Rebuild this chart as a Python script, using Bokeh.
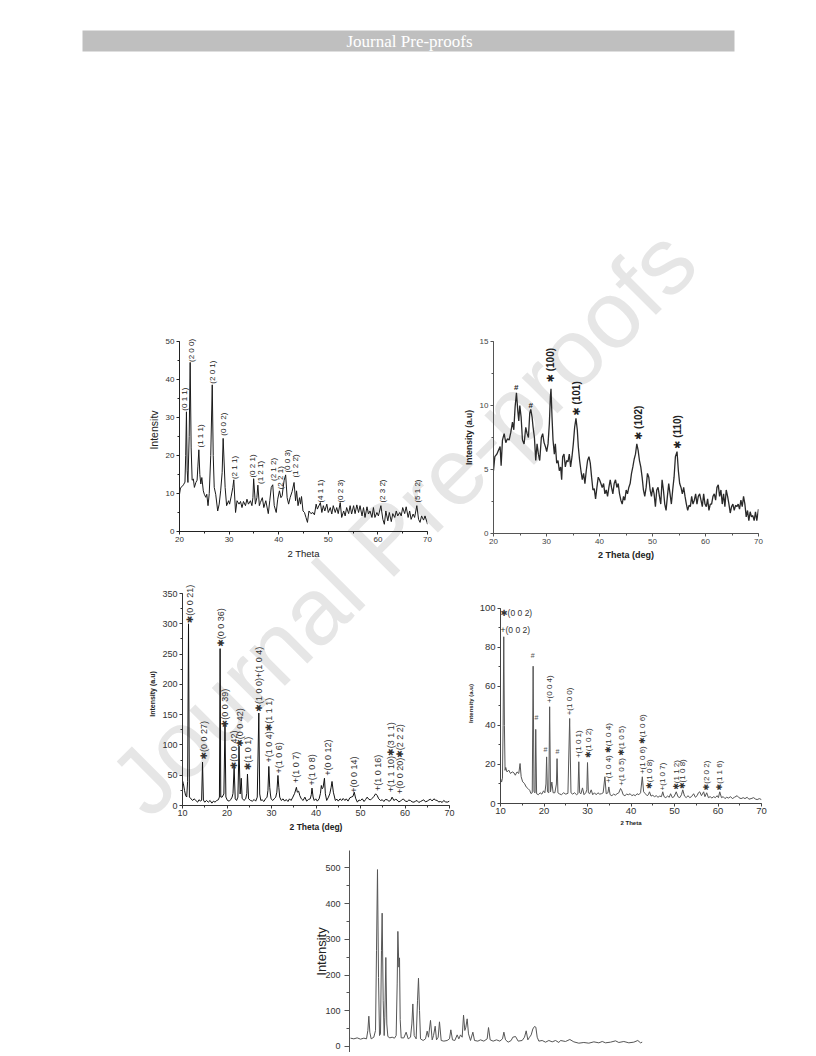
import math
from bokeh.plotting import figure
from bokeh.models import Range1d, Label, LabelSet, ColumnDataSource, SingleIntervalTicker, Spacer
from bokeh.layouts import column, row
from bokeh.core.properties import value
from bokeh.embed import file_html
from bokeh.resources import INLINE

FONT = "Liberation Sans"
LABEL_FONT = "Liberation Sans, DejaVu Sans"
STAR = "\u2731"
BAR = "\u0304"

# ---------------- panel (a): 2 Theta 20-70, Intensitv 0-50 ----------------
a_x = [20.0, 20.2, 20.5, 20.8, 21.1, 21.25, 21.4, 21.55, 21.7, 21.95, 22.15, 22.35, 22.55, 22.8, 23.0,
       23.3, 23.55, 23.7, 23.9, 24.1, 24.3, 24.5, 24.8, 25.0, 25.3, 25.5, 25.75, 26.0, 26.3, 26.6,
       26.8, 27.0, 27.3, 27.7, 28.0, 28.3, 28.6, 28.8, 29.2, 29.5, 29.9, 30.1, 30.4, 30.75, 30.95,
       31.3, 31.6, 32.0, 32.3, 32.6, 32.9, 33.3, 33.6, 33.9, 34.3, 34.6, 34.8, 34.95, 35.3, 35.6,
       35.8, 36.1, 36.3, 36.7, 37.0, 37.4, 37.9, 38.2, 38.5, 38.8, 39.1, 39.5, 39.8, 40.15, 40.45,
       40.7, 40.9, 41.1, 41.4, 41.7, 42.0, 42.3, 42.7, 43.1, 43.4, 43.6, 43.9, 44.2, 44.4, 44.6,
       44.9, 45.2, 45.5, 45.8, 46.1, 46.5, 46.9, 47.2, 47.55, 47.8, 48.4, 48.7, 49.0, 49.3, 49.7,
       50.0, 50.4, 50.7, 51.0, 51.4, 51.7, 52.0, 52.4, 52.7, 53.1, 53.4, 53.7, 54.1, 54.4, 54.7,
       55.1, 55.4, 55.75, 56.1, 56.4, 56.8, 57.1, 57.4, 57.8, 58.1, 58.4, 58.8, 59.1, 59.4, 59.8,
       60.1, 60.6, 61.0, 61.3, 61.6, 62.0, 62.3, 62.7, 63.0, 63.4, 63.7, 64.0, 64.4, 64.7, 65.0,
       65.4, 65.7, 66.1, 66.4, 66.7, 67.1, 67.4, 67.85, 68.2, 68.5, 68.8, 69.2, 69.5, 69.9, 70.0]
a_y = [9.8, 11.5, 11.8, 12.3, 13.0, 20.0, 31.5, 16.0, 12.9, 25.0, 44.5, 22.0, 13.5, 13.8, 11.6,
       12.9, 13.5, 17.0, 21.5, 15.0, 12.5, 14.2, 10.7, 9.8, 9.0, 9.8, 6.8, 10.0, 20.0, 38.6,
       20.0, 11.6, 9.8, 5.4, 7.2, 10.7, 15.5, 24.5, 11.6, 6.8, 8.1, 7.2, 9.1, 11.6, 13.6,
       5.0, 8.1, 7.2, 7.9, 6.3, 7.9, 6.8, 8.5, 7.2, 8.1, 6.8, 8.9, 13.9, 7.2, 8.9,
       12.2, 6.8, 7.6, 8.9, 6.3, 8.1, 4.7, 8.1, 11.6, 12.3, 6.8, 5.0, 8.5, 10.7, 8.9,
       9.4, 11.6, 13.5, 14.9, 8.9, 7.2, 8.9, 10.5, 12.9, 8.1, 10.7, 6.8, 8.9, 7.2, 9.2,
       5.4, 5.0, 3.7, 2.4, 5.4, 4.7, 5.0, 4.4, 7.2, 5.9, 7.6, 5.0, 6.8, 5.4, 7.2,
       5.0, 6.3, 4.6, 6.8, 5.0, 6.3, 4.7, 7.6, 3.7, 5.4, 4.1, 6.3, 4.7, 6.8, 4.6,
       6.8, 4.7, 7.0, 5.0, 6.8, 4.1, 6.3, 3.7, 6.5, 4.6, 5.4, 3.7, 6.3, 3.7, 5.0,
       4.1, 6.8, 3.2, 1.9, 5.4, 2.8, 5.0, 2.6, 4.7, 3.7, 5.4, 4.1, 5.0, 4.1, 6.3,
       4.7, 6.5, 3.7, 5.4, 3.2, 4.6, 3.7, 6.8, 3.2, 2.4, 4.1, 3.0, 4.1, 2.4, 1.9]
a_lab_x = [21.0, 22.5, 24.2, 26.7, 28.9, 31.1, 34.8, 36.4, 38.95, 40.3, 41.85, 43.3, 48.4, 52.4, 61.0, 68.0]
a_lab_y = [31.8, 44.6, 22.1, 38.9, 25.2, 13.8, 14.2, 12.5, 13.3, 11.1, 15.5, 14.2, 7.6, 7.6, 7.6, 7.6]
a_lab_t = ["(0 1 1)", "(2 0 0)", "(1 1 1)", "(2 0 1)", "(0 0 2)", "(2 1 1)", "(0 2 1)",
           "(1 2 1" + BAR + ")", "(2 1 2)", "(2 2 1)", "(0 0 3)", "(1 2 2" + BAR + ")",
           "(4 1 1)", "(0 2 3)", "(2 3 2" + BAR + ")", "(5 1 2)"]

# ---------------- panel (b): 2 Theta (deg) 20-70, Intensity 0-15 ----------------
b_x = [20.0, 20.25, 20.63, 20.94, 21.25, 21.44, 21.69, 22.01, 22.32, 22.63, 22.95, 23.26, 23.58, 23.83,
       24.08, 24.33, 24.58, 24.77, 24.96, 25.21, 25.46, 25.77, 26.09, 26.34, 26.59, 26.84, 27.03, 27.28,
       27.47, 27.72, 27.97, 28.22, 28.47, 28.72, 29.03, 29.28, 29.54, 29.79, 30.04, 30.29, 30.54, 30.73,
       30.85, 31.04, 31.23, 31.48, 31.67, 31.92, 32.17, 32.42, 32.67, 32.86, 33.05, 33.30, 33.55, 33.80,
       34.05, 34.30, 34.55, 34.81, 35.06, 35.31, 35.56, 35.81, 36.00, 36.25, 36.50, 36.75, 37.00, 37.25,
       37.50, 37.75, 38.01, 38.26, 38.51, 38.76, 39.01, 39.26, 39.51, 39.76, 40.01, 40.26, 40.51, 40.77,
       41.02, 41.27, 41.52, 41.77, 42.02, 42.27, 42.52, 42.77, 43.02, 43.28, 43.53, 43.78, 44.03, 44.28,
       44.53, 44.78, 45.03, 45.28, 45.53, 45.78, 46.04, 46.29, 46.54, 46.79, 47.04, 47.29, 47.54, 47.79,
       48.04, 48.29, 48.54, 48.80, 49.05, 49.30, 49.55, 49.80, 50.05, 50.30, 50.55, 50.80, 51.05, 51.31,
       51.56, 51.81, 52.06, 52.31, 52.56, 52.81, 53.06, 53.31, 53.56, 53.81, 54.07, 54.32, 54.63, 54.88,
       55.13, 55.38, 55.63, 55.88, 56.14, 56.39, 56.64, 56.89, 57.14, 57.39, 57.64, 57.89, 58.14, 58.39,
       58.64, 58.90, 59.15, 59.40, 59.65, 59.90, 60.15, 60.40, 60.65, 60.90, 61.15, 61.41, 61.66, 61.91,
       62.16, 62.41, 62.66, 62.91, 63.16, 63.41, 63.66, 63.91, 64.17, 64.42, 64.67, 64.92, 65.17, 65.42,
       65.67, 65.92, 66.17, 66.42, 66.68, 66.93, 67.18, 67.43, 67.68, 67.93, 68.18, 68.43, 68.68, 68.93,
       69.18, 69.43, 69.68, 70.0]
b_y = [4.9, 6.0, 6.2, 6.5, 6.8, 5.3, 7.3, 7.8, 7.1, 7.4, 7.3, 7.9, 8.7, 8.1,
       9.9, 11.0, 9.6, 8.8, 10.0, 9.1, 7.3, 7.0, 8.3, 7.8, 7.5, 9.4, 9.7, 9.1,
       8.3, 7.5, 5.7, 7.0, 6.2, 5.7, 7.5, 7.8, 7.1, 6.8, 6.4, 7.0, 8.6, 10.7,
       11.3, 9.1, 7.3, 6.2, 7.0, 5.5, 5.7, 4.9, 5.2, 4.2, 6.0, 6.2, 5.2, 5.7,
       5.6, 6.2, 5.2, 6.0, 7.0, 8.3, 9.0, 8.1, 6.8, 5.7, 4.9, 4.2, 4.7, 3.9,
       4.9, 5.7, 6.0, 5.5, 4.4, 3.4, 3.5, 2.7, 3.6, 4.4, 4.2, 3.9, 3.6, 3.9,
       3.1, 3.4, 2.9, 3.6, 4.2, 3.6, 3.1, 3.9, 4.2, 3.6, 3.9, 3.1, 2.6, 2.3,
       2.9, 2.6, 3.4, 3.1, 3.6, 3.9, 4.7, 5.2, 5.8, 6.2, 7.0, 6.5, 5.7, 5.2,
       4.4, 3.4, 2.9, 3.6, 4.7, 4.4, 3.4, 2.9, 3.6, 3.1, 2.1, 3.4, 3.6, 2.9,
       2.3, 4.2, 3.4, 2.3, 1.8, 2.9, 3.9, 3.1, 2.3, 3.4, 4.4, 6.0, 6.4, 4.9,
       3.9, 3.6, 3.1, 3.6, 2.9, 2.3, 1.8, 2.2, 2.1, 2.9, 2.3, 2.6, 3.1, 2.3,
       2.9, 3.1, 2.6, 2.1, 3.1, 2.3, 2.1, 2.7, 1.8, 2.3, 2.3, 2.9, 3.1, 2.6,
       3.6, 3.8, 2.9, 3.4, 2.3, 3.1, 2.1, 3.4, 2.9, 2.3, 1.6, 2.1, 2.3, 1.8,
       2.2, 2.1, 2.3, 1.9, 2.6, 2.1, 2.9, 2.3, 1.3, 1.8, 1.0, 1.7, 1.3, 1.4,
       1.0, 1.7, 1.0, 1.9]
b_lab_x = [30.85, 35.6, 47.4, 54.8]
b_lab_y = [11.8, 9.2, 7.3, 6.6]
b_lab_t = [STAR + " (100)", STAR + " (101)", STAR + " (102)", STAR + " (110)"]
b_hash_x = [24.3, 27.0]
b_hash_y = [11.4, 10.0]

# ---------------- panel (c): 2 Theta (deg) 10-70, Intensity 0-350 ----------------
c_x = [10.0, 10.2, 10.45, 10.7, 10.95, 11.15, 11.35, 11.55, 11.9, 12.3, 12.6, 13.0, 13.4, 13.7, 14.1,
       14.3, 14.5, 14.7, 15.0, 15.4, 15.8, 16.2, 16.6, 16.95, 17.3, 17.7, 18.05, 18.3, 18.45, 18.6,
       18.9, 19.3, 19.55, 19.75, 20.1, 20.5, 20.8, 21.15, 21.35, 21.6, 21.85, 22.15, 22.45, 22.7, 22.95,
       23.2, 23.4, 23.8, 24.2, 24.45, 24.6, 24.85, 25.3, 25.7, 26.1, 26.45, 26.8, 27.15, 27.35, 27.6,
       27.9, 28.3, 28.65, 29.0, 29.2, 29.4, 29.6, 29.75, 29.9, 30.3, 30.6, 30.95, 31.2, 31.45, 31.65,
       31.85, 32.2, 32.6, 32.95, 33.3, 33.7, 34.05, 34.4, 34.8, 35.2, 35.6, 35.8, 36.1, 36.35, 36.7,
       37.1, 37.5, 37.9, 38.3, 38.7, 38.95, 39.1, 39.35, 39.6, 39.95, 40.3, 40.7, 41.0, 41.2, 41.4,
       41.6, 41.9, 42.1, 42.4, 42.8, 43.1, 43.4, 43.6, 43.9, 44.35, 44.7, 45.0, 45.4, 45.8, 46.1,
       46.5, 46.8, 47.2, 47.6, 47.9, 48.3, 48.6, 48.9, 49.3, 49.65, 50.0, 50.4, 50.8, 51.15, 51.5,
       51.9, 52.3, 52.65, 53.0, 53.4, 53.75, 54.1, 54.5, 54.9, 55.25, 55.6, 56.0, 56.4, 56.75, 57.1,
       57.5, 57.85, 58.2, 58.6, 59.0, 59.35, 59.7, 60.1, 60.5, 60.85, 61.2, 61.6, 62.0, 62.35, 62.7,
       63.1, 63.5, 63.85, 64.2, 64.6, 65.0, 65.35, 65.7, 66.1, 66.5, 66.85, 67.2, 67.6, 68.0, 68.35,
       68.7, 69.1, 69.5, 70.0]
c_y = [41, 36, 25, 16.5, 14, 40, 300, 14, 11, 8.3, 11, 8.3, 5.5, 9.4, 7.2,
       9, 71.7, 9, 5.5, 8.3, 5.5, 8.3, 3.9, 7.2, 5.5, 8.3, 9.4, 14, 259, 14,
       13.8, 19, 135, 14, 8.3, 7.2, 9.4, 13.8, 20, 63.4, 11, 8.3, 13.8, 98, 19,
       45, 12, 8.3, 11, 20, 52, 11, 8.3, 7.2, 9.9, 7.2, 13.8, 152.7, 19, 8.3,
       9.4, 6.6, 11, 13.8, 25, 64.5, 30, 19, 11, 8.3, 11, 13.8, 22, 49.6, 30,
       13.8, 8.3, 11, 7.2, 9.9, 6.6, 11, 8.3, 13.8, 20, 30, 22, 23.7, 16.5, 11,
       8.3, 13.8, 7.2, 9.9, 11, 18, 28.7, 14, 8.3, 11, 7.2, 11, 20, 33, 27.6,
       30, 45, 19.3, 8.3, 13.8, 19.3, 30, 39.7, 22, 8.3, 10.5, 7.2, 11, 8.3, 11.6,
       8.3, 11, 7.2, 12.7, 13.8, 15, 22, 12, 5.5, 9, 8.3, 11, 6.6, 10, 13.8,
       10, 9.4, 12, 14.9, 19.3, 16.5, 11, 8.3, 9.5, 6.6, 10, 9.4, 7, 8.3, 13.8,
       8.3, 10, 9.4, 6, 7.2, 10, 10.5, 7, 6.6, 9, 8.3, 6, 5.5, 7, 8.3,
       5, 6.6, 8, 9.4, 6, 7.2, 9, 10.5, 7.5, 11, 9, 8.3, 6, 6.6, 5,
       8.3, 6, 5.5, 7.2]
c_lab_x = [11.7, 14.85, 18.75, 19.65, 21.6, 22.85, 24.8, 27.3, 29.45, 31.7, 35.4, 39.1, 42.75,
           48.5, 53.9, 56.9, 58.85]
c_lab_y = [301, 76, 262, 129, 60, 97, 58, 155, 71, 53, 37, 33, 49, 21, 24, 22, 19]
c_lab_t = [STAR + "(0 0 21)", STAR + "(0 0 27)", STAR + "(0 0 36)", STAR + "(0 0 39)",
           STAR + "(0 0 42)", STAR + "(0 0 42)", STAR + "(1 0 1)", STAR + "(1 0 0)+(1 0 4)",
           "+(1 0 4)" + STAR + "(1 1 1)", "+(1 0 6)", "+(1 0 7)", "+(1 0 8)", "+(0 0 12)",
           "+(0 0 14)", "+(1 0 16)", "+(1 1 10)" + STAR + "(3 1 1)", "+(0 0 20)" + STAR + "(2 2 2)"]

# ---------------- panel (d): 2 Theta 10-70, Intensity 0-100 ----------------
d_x = [10.0, 10.25, 10.45, 10.6, 10.75, 10.9, 11.05, 11.2, 11.5, 11.9, 12.3, 12.7, 13.1, 13.4, 13.8,
       14.2, 14.5, 14.75, 15.1, 15.5, 15.9, 16.3, 16.7, 17.0, 17.3, 17.5, 17.7, 17.95, 18.1, 18.3,
       18.7, 19.1, 19.5, 19.9, 20.2, 20.45, 20.6, 20.8, 21.1, 21.3, 21.5, 21.8, 22.1, 22.5, 22.85,
       23.0, 23.2, 23.5, 24.0, 24.5, 25.0, 25.5, 25.9, 26.2, 26.6, 27.0, 27.5, 27.8, 28.0, 28.2,
       28.5, 28.85, 29.2, 29.6, 29.85, 30.0, 30.2, 30.5, 30.85, 31.2, 31.6, 32.0, 32.4, 32.8, 33.2,
       33.6, 34.0, 34.3, 34.7, 34.9, 35.2, 35.6, 36.0, 36.4, 36.8, 37.2, 37.6, 37.9, 38.2, 38.6,
       39.0, 39.4, 39.8, 40.2, 40.6, 41.0, 41.4, 41.8, 42.2, 42.6, 42.9, 43.3, 43.7, 44.0, 44.25,
       44.6, 45.0, 45.4, 45.8, 46.2, 46.6, 47.0, 47.3, 47.6, 48.0, 48.4, 48.8, 49.1, 49.5, 49.9,
       50.4, 50.8, 51.2, 51.6, 51.9, 52.3, 52.7, 53.1, 53.5, 53.9, 54.4, 54.8, 55.2, 55.5, 55.8,
       56.2, 56.7, 57.0, 57.4, 57.8, 58.2, 58.6, 59.0, 59.4, 59.8, 60.1, 60.4, 60.8, 61.2, 61.6,
       62.0, 62.4, 62.9, 63.3, 63.8, 64.4, 64.8, 65.3, 65.8, 66.2, 66.7, 67.1, 67.6, 68.2, 68.6,
       69.0, 69.5, 70.0]
d_y = [12.8, 11.0, 13.0, 40, 85.5, 40, 17, 18.5, 16.2, 17.1, 15.4, 16.2, 15.7, 14.5, 16.2,
       15.4, 20.5, 13.7, 11.1, 10.3, 8.5, 7.7, 6.8, 5.1, 5.5, 70.4, 6.0, 5.5, 38, 5.0,
       4.5, 5.5, 4.8, 6.5, 5.5, 10, 23.9, 6.0, 5.5, 49.6, 6.0, 11.0, 5.5, 5.5, 10,
       23, 5.5, 5.0, 4.5, 5.5, 4.8, 5.2, 43.6, 5.5, 4.8, 5.5, 4.5, 5.0, 21.4, 5.5,
       5.0, 8.0, 4.5, 5.5, 7, 21.0, 5.5, 5.0, 7.0, 4.5, 5.5, 4.5, 5.5, 4.8, 5.0,
       5.5, 13.7, 5.0, 5.5, 8.5, 4.5, 4.0, 4.8, 4.3, 5.0, 5.5, 7.7, 6.5, 4.5, 4.0,
       4.8, 4.5, 5.0, 4.0, 4.5, 4.0, 5.0, 4.5, 5.5, 13.7, 6.0, 5.0, 4.0, 4.5, 6.0,
       3.8, 4.2, 3.5, 4.0, 3.2, 3.8, 3.5, 6.0, 3.5, 3.0, 3.8, 3.2, 5.0, 3.0, 3.5,
       6.0, 3.5, 3.0, 4.5, 7.0, 3.8, 3.0, 4.0, 3.0, 3.5, 5.0, 3.2, 4.0, 5.5, 6.0,
       4.0, 6.0, 3.5, 5.5, 3.0, 3.5, 2.8, 3.5, 3.0, 4.0, 3.0, 6.0, 3.0, 3.5, 2.5,
       3.2, 2.8, 3.5, 2.5, 3.2, 4.0, 3.0, 2.5, 3.0, 2.5, 3.2, 2.2, 2.5, 3.0, 2.3,
       2.0, 2.5, 2.0]
d_top_t = [STAR + "(0 0 2)", "+(0 0 2)"]
d_top_y = [97.8, 89.2]
d_hash_x = [17.43, 18.28, 20.34, 23.1]
d_hash_y = [76.0, 43.9, 27.7, 26.7]
d_lab_x = [21.26, 25.86, 28.0, 30.15, 34.9, 37.74, 42.57, 44.25, 47.3, 50.4, 51.9, 57.36, 60.4]
d_lab_y = [51.5, 45.2, 23.3, 23.3, 10.5, 9.1, 15.1, 7.4, 6.7, 7.0, 7.4, 6.7, 6.7]
d_lab_t = ["+(0 0 4)", "+(1 0 0)", "+(1 0 1)", STAR + "(1 0 2)", "+(1 0 4) " + STAR + "(1 0 4)",
           "+(1 0 5) " + STAR + "(1 0 5)", "+(1 0 6) " + STAR + "(1 0 6)", STAR + "(1 0 8)",
           "+(1 0 7)", STAR + "(1 1 2)", STAR + "(1 0 8)", STAR + "(2 0 2)", STAR + "(1 1 6)"]

# ---------------- panel (e): Intensity (x axis cut off by the page) ----------------
e_x = [5.19, 5.84, 6.48, 7.12, 7.77, 8.28, 8.54, 8.73, 8.92, 9.18,
       9.69, 10.02, 10.21, 10.40, 10.60, 10.79, 10.98, 11.17, 11.30, 11.50,
       11.69, 11.82, 12.01, 12.20, 12.40, 12.78, 13.23, 13.68, 14.00, 14.20,
       14.33, 14.52, 14.65, 14.78, 14.97, 15.48, 15.93, 16.32, 16.77, 17.03,
       17.22, 17.48, 17.86, 18.12, 18.31, 18.51, 18.70, 19.21, 19.66, 19.99,
       20.24, 20.63, 20.95, 21.21, 21.53, 21.79, 22.11, 22.36, 22.69, 23.20,
       23.84, 24.29, 24.55, 24.87, 25.32, 25.77, 26.09, 26.42, 26.74, 27.00,
       27.25, 27.45, 27.70, 27.96, 28.35, 28.80, 29.12, 29.76, 30.27, 30.92,
       31.56, 31.82, 32.14, 32.72, 33.36, 34.00, 34.52, 34.78, 35.10, 35.61,
       36.19, 36.51, 37.03, 37.54, 38.31, 38.76, 39.09, 39.41, 39.73, 40.05,
       40.37, 40.69, 40.95, 41.21, 41.53, 42.17, 42.82, 43.46, 44.10, 44.75,
       45.39, 45.71, 46.67, 47.51, 48.28, 49.24, 50.21, 51.17, 52.14, 53.10,
       53.76, 54.39, 55.36, 56.32, 56.96, 57.92, 58.89, 59.85, 60.62, 61.15,
       61.47]
e_y = [23.3, 21.4, 24.2, 20.5, 23.3, 21.4, 44.8, 84.8, 40.1, 21.4,
       26, 44.8, 268, 495, 193, 30.6, 35.3, 268, 373, 128,
       30.6, 82, 249, 63, 28, 24.2, 26, 23.3, 30.6, 175,
       322, 222, 248, 75, 24.2, 24, 40, 21.4, 26, 63,
       119, 30.6, 21.4, 128, 191, 101, 21.4, 16.8, 21.4, 43,
       26, 73, 18.6, 30.6, 56.7, 18.6, 26, 69, 16.8, 15,
       16.8, 21.4, 46.6, 18.6, 16.8, 32.5, 21.4, 32.5, 26, 87.7,
       44.8, 54, 77.4, 35.3, 16.8, 40.1, 16.8, 15, 18.6, 15,
       21.4, 53, 18.6, 15, 18.6, 15, 21.4, 40.1, 18.6, 12.1,
       16.8, 26, 28, 15, 16.8, 26, 43.8, 18.6, 26, 32.5,
       49, 56, 54, 26, 15, 16.8, 12.1, 16.8, 13, 16.8,
       11.2, 16.8, 14, 19.6, 13, 9.3, 11.2, 9.3, 13, 10.3,
       14, 10.3, 12.1, 15.8, 11.2, 14, 10.3, 12.1, 16.8, 10.3,
       12.1]

PAGE_W, PAGE_H = 810, 1052


def panel(w, h, bl, br, bt, bb, xr, yr, xaxis=True, yaxis=True):
    p = figure(width=w, height=h, x_range=Range1d(*xr), y_range=Range1d(*yr),
               output_backend="svg", toolbar_location=None, title=None,
               min_border_left=bl, min_border_right=br, min_border_top=bt, min_border_bottom=bb,
               x_axis_type="linear" if xaxis else None, y_axis_type="linear" if yaxis else None)
    p.outline_line_color = None
    p.xgrid.visible = False
    p.ygrid.visible = False
    p.background_fill_color = None
    p.border_fill_color = None
    return p


def style_axis(ax, interval, label, tick_fs, tick_color, line_color, lab_fs, lab_style,
               tick_out=3, minor_out=2, lab_standoff=2, axlab_standoff=3, bounds=None):
    ax.ticker = SingleIntervalTicker(interval=interval, num_minor_ticks=2)
    if bounds is not None:
        ax.bounds = bounds
    ax.axis_label = label
    ax.axis_line_color = line_color
    ax.major_tick_line_color = line_color
    ax.minor_tick_line_color = line_color
    ax.major_tick_in = 0
    ax.major_tick_out = tick_out
    ax.minor_tick_in = 0
    ax.minor_tick_out = minor_out
    ax.major_label_text_font = FONT
    ax.major_label_text_font_size = tick_fs
    ax.major_label_text_color = tick_color
    ax.major_label_standoff = lab_standoff
    ax.axis_label_text_font = FONT
    ax.axis_label_text_font_size = lab_fs
    ax.axis_label_text_font_style = lab_style
    ax.axis_label_text_color = "#222222"
    ax.axis_label_standoff = axlab_standoff


def rot_labels(p, xs, ys, ts, size, color="#222222", style="normal"):
    src = ColumnDataSource(dict(x=xs, y=ys, t=ts))
    p.add_layout(LabelSet(x="x", y="y", text="t", source=src, angle=math.pi / 2,
                          text_align="left", text_baseline="middle",
                          text_font=value(LABEL_FONT), text_font_size=size,
                          text_font_style=value(style), text_color=color))


def flat_labels(p, xs, ys, ts, size, color="#222222", style="normal", align="center"):
    src = ColumnDataSource(dict(x=xs, y=ys, t=ts))
    p.add_layout(LabelSet(x="x", y="y", text="t", source=src, text_align=align,
                          text_baseline="middle", text_font=value(LABEL_FONT), text_font_size=size,
                          text_font_style=value(style), text_color=color))


# ---- page background: header strip and diagonal watermark (page pixel coordinates) ----
bg = figure(width=PAGE_W, height=PAGE_H, x_range=Range1d(0, PAGE_W), y_range=Range1d(PAGE_H, 0),
            output_backend="svg", toolbar_location=None, title=None, min_border=0,
            x_axis_type=None, y_axis_type=None, margin=(0, 0, -PAGE_H, 0))
bg.outline_line_color = None
bg.background_fill_color = "white"
bg.border_fill_color = "white"
bg.quad(left=[82], right=[734], top=[30], bottom=[51], fill_color="#bfbfbf", line_color=None)
bg.add_layout(Label(x=409, y=40.5, text="Journal Pre-proofs", text_align="center",
                    text_baseline="middle", text_font="Liberation Serif", text_font_size="17px",
                    text_color="white"))
bg.add_layout(Label(x=402, y=521, text="Journal Pre-proofs", angle=math.pi / 4,
                    text_align="center", text_baseline="middle", text_font=FONT,
                    text_font_size="95px", text_color="#e6e6e6"))

# (a)
pa = panel(455, 272, 179, 28, 20, 49, (20, 70), (0, 53.42))
pa.line(a_x, a_y, line_color="#1a1a1a", line_width=1)
style_axis(pa.xaxis[0], 10, "2 Theta", "8px", "#333333", "#222222", "9.5px", "normal")
style_axis(pa.yaxis[0], 10, "Intensitv", "8px", "#333333", "#222222", "10.5px", "normal",
           bounds=(0, 50))
rot_labels(pa, a_lab_x, a_lab_y, a_lab_t, "8px")

# (b)
pb = panel(355, 272, 38, 52, 33, 47, (20, 70), (0, 15))
pb.line(b_x, b_y, line_color="#2a2a2a", line_width=1.3)
style_axis(pb.xaxis[0], 10, "2 Theta (deg)", "8px", "#444444", "#555555", "9px", "bold")
style_axis(pb.yaxis[0], 5, "Intensity (a.u)", "8px", "#444444", "#555555", "8.5px", "bold")
rot_labels(pb, b_lab_x, b_lab_y, b_lab_t, "10px", style="bold")
flat_labels(pb, b_hash_x, b_hash_y, ["#", "#"], "8px", style="bold")

# (c)
pc = panel(462, 265, 182, 13, 2, 40, (10, 70), (0, 368.2))
pc.line(c_x, c_y, line_color="#111111", line_width=1)
style_axis(pc.xaxis[0], 10, "2 Theta (deg)", "9px", "#333333", "#333333", "8.5px", "bold",
           lab_standoff=1)
style_axis(pc.yaxis[0], 50, "Intensity (a.u)", "9px", "#333333", "#333333", "7px", "bold",
           bounds=(0, 350))
rot_labels(pc, c_lab_x, c_lab_y, c_lab_t, "9px", color="#333333")

# (d)
pd = panel(348, 265, 38, 49, 23, 42, (10, 70), (0, 102.56))
pd.line(d_x, d_y, line_color="#555555", line_width=1)
style_axis(pd.xaxis[0], 10, "2 Theta", "9.5px", "#333333", "#444444", "6px", "bold",
           lab_standoff=1)
style_axis(pd.yaxis[0], 20, "Intensity (a.u)", "9.5px", "#333333", "#444444", "6px", "bold",
           bounds=(0, 100))
flat_labels(pd, [10.0, 10.0], d_top_y, d_top_t, "8.5px", color="#333333", align="left")
flat_labels(pd, d_hash_x, d_hash_y, ["#", "#", "#", "#"], "7px", color="#555555")
rot_labels(pd, d_lab_x, d_lab_y, d_lab_t, "8px", color="#333333")

# (e)
pe = panel(810, 207, 349, 150, 5, 0, (5, 65), (-16.8, 548.4), xaxis=False)
pe.line(e_x, e_y, line_color="#555555", line_width=1)
style_axis(pe.yaxis[0], 100, "Intensity", "9px", "#333333", "#555555", "13px", "normal",
           tick_out=5, minor_out=3, lab_standoff=4, axlab_standoff=-7)

content = column(Spacer(width=PAGE_W, height=308),
                 row(column(pa), column(pb)),
                 row(column(pc), column(pd)),
                 row(pe))
layout = column(bg, content)
open("out.html", "w").write(file_html(layout, INLINE))
